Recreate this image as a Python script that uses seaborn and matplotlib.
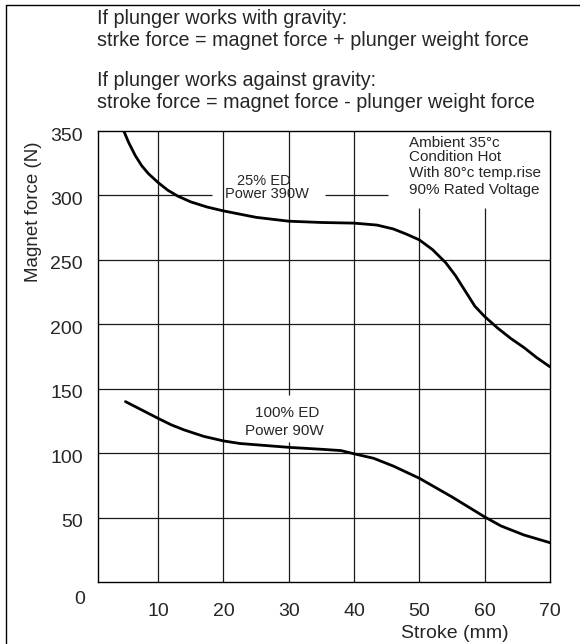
import matplotlib
matplotlib.use("Agg")
import matplotlib.pyplot as plt
import matplotlib.transforms as mtransforms
from matplotlib.lines import Line2D
import pandas as pd
import seaborn as sns

sns.set_style("white")
plt.rcParams['font.family'] = ['Liberation Sans', 'DejaVu Sans']

# 25% ED, Power 390W
stroke_25 = [4.75, 5.5, 6.5, 7.5, 8.5, 10, 11.5, 13, 15, 17.5, 20, 22.5, 25, 30, 35, 40,
             43.5, 46, 48, 50, 52, 54, 55.5, 57, 58.5, 60, 62, 64, 66, 68, 70]
force_25 = [350, 341, 331, 323, 317, 310, 304, 299.5, 295, 291, 288, 285.5, 283, 280, 279, 278.5,
            277, 274, 270, 265.5, 258, 248, 238, 226, 214, 206, 197, 189, 182, 174, 167]

# 100% ED, Power 90W
stroke_100 = [5, 7.5, 10, 12, 14, 17, 20, 22.5, 25, 30, 35, 38, 40, 43, 46, 50, 55, 60,
              62.5, 64, 66, 68, 70]
force_100 = [140, 133.5, 127, 122, 118, 113, 109.5, 107.5, 106.5, 104.5, 103, 102, 99.5, 96,
             90, 80.5, 66, 50.5, 43.5, 40.5, 36.5, 33.5, 30.5]

x_ticks = [10, 20, 30, 40, 50, 60, 70]
y_ticks = [0, 50, 100, 150, 200, 250, 300, 350]

notes = ["If plunger works with gravity:",
         "strke force = magnet force + plunger weight force",
         "If plunger works against gravity:",
         "stroke force = magnet force - plunger weight force"]
conditions = ["Ambient 35°c", "Condition Hot", "With 80°c temp.rise", "90% Rated Voltage"]

df = pd.concat([
    pd.DataFrame({"stroke": stroke_25, "force": force_25, "series": "25% ED"}),
    pd.DataFrame({"stroke": stroke_100, "force": force_100, "series": "100% ED"}),
])

fig = plt.figure(figsize=(5.8, 6.44), dpi=100)
ax = fig.add_axes([98 / 580, 62 / 644, 452 / 580, 451 / 644])

XMIN, XMAX, YMIN, YMAX = 0.8, 70, 0, 350
grid_kw = dict(color="#1a1a1a", lw=0.9, zorder=1)

# horizontal gridlines (the 300 line is broken by the labels)
for y in y_ticks[1:-1]:
    if y == 300:
        ax.hlines(y, XMIN, 18.2, **grid_kw)
        ax.hlines(y, 35.5, 45.2, **grid_kw)
    else:
        ax.hlines(y, XMIN, XMAX, **grid_kw)

# vertical gridlines
for x in x_ticks[:-1]:
    if x == 30:
        ax.vlines(x, YMIN, 108.5, **grid_kw)
        ax.vlines(x, 145, YMAX, **grid_kw)
    elif x in (50, 60):
        ax.vlines(x, YMIN, 290, **grid_kw)
    else:
        ax.vlines(x, YMIN, YMAX, **grid_kw)

sns.lineplot(data=df, x="stroke", y="force", units="series", estimator=None,
             color="black", lw=2, ax=ax, zorder=3, sort=False)

ax.set_xlim(XMIN, XMAX)
ax.set_ylim(YMIN, YMAX)
ax.set_xticks(x_ticks)
ax.set_yticks(y_ticks)
ax.set_xticklabels([str(v) for v in x_ticks], fontsize=14)
ax.set_yticklabels([str(v) for v in y_ticks], fontsize=14)
ax.tick_params(axis="x", length=0, pad=15)
ax.tick_params(axis="y", length=0, pad=11)
for lbl in ax.get_yticklabels():
    dy = -0.15 if lbl.get_text() == "0" else -0.03
    dx = 0.02 if lbl.get_text() == "0" else 0
    lbl.set_transform(lbl.get_transform() +
                      mtransforms.ScaledTranslation(dx, dy, fig.dpi_scale_trans))
ax.set_xlabel("")
ax.set_ylabel("")
for sp in ax.spines.values():
    sp.set_color("black")
    sp.set_linewidth(1.0)

# axis titles
fig.text(455 / 580, 1 - 633 / 644, "Stroke (mm)", fontsize=14, ha="center", va="center")
fig.text(33 / 580, 1 - 212 / 644, "Magnet force (N)", fontsize=13.5, rotation=90,
         ha="center", va="center")

# curve labels
ax.text(26.2, 311.5, "25% ED", fontsize=10.5, ha="center", va="center")
ax.text(26.7, 301, "Power 390W", fontsize=10.5, ha="center", va="center")
ax.text(29.8, 131, "100% ED", fontsize=11, ha="center", va="center")
ax.text(29.4, 117, "Power 90W", fontsize=11, ha="center", va="center")

cond_y = [143, 157, 173, 190]
for txt, py in zip(conditions, cond_y):
    fig.text(409 / 580, 1 - py / 644, txt, fontsize=11, ha="left", va="center")

note_y = [18, 40, 81, 103]
for txt, py in zip(notes, note_y):
    fig.text(97 / 580, 1 - py / 644, txt, fontsize=14.2, ha="left", va="center")

# outer frame (top and left edges)
fig.add_artist(Line2D([6 / 580, 1], [1 - 5 / 644, 1 - 5 / 644], transform=fig.transFigure,
                      color="black", lw=1))
fig.add_artist(Line2D([6 / 580, 6 / 580], [0, 1 - 5 / 644], transform=fig.transFigure,
                      color="black", lw=1))

fig.savefig("out.png", dpi=100)
plt.close(fig)
